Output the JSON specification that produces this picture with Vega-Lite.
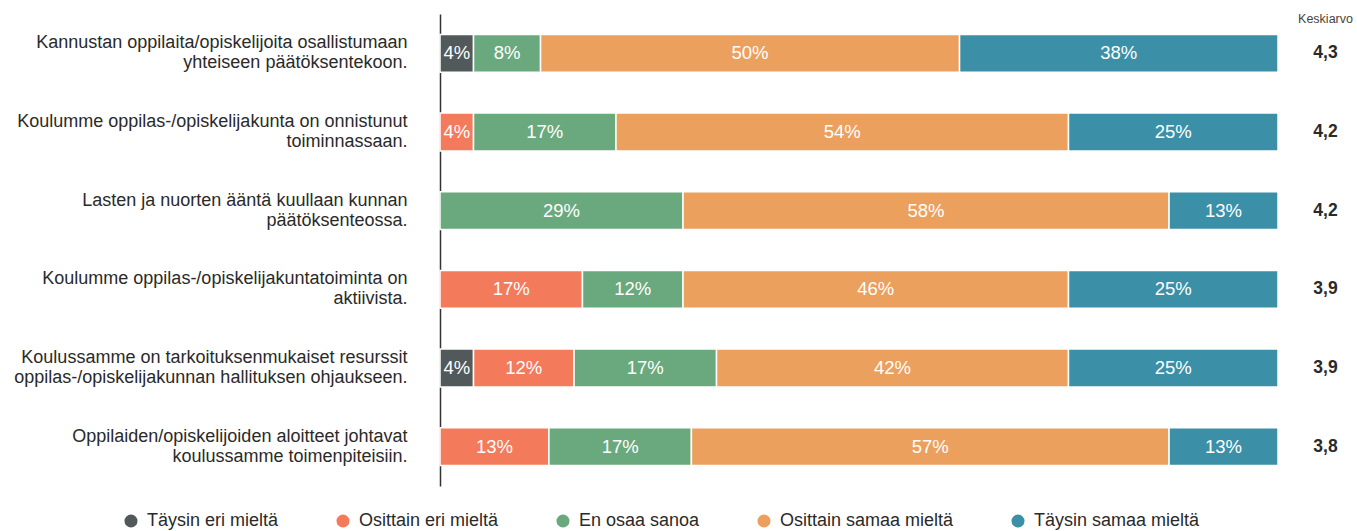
{
  "$schema": "https://vega.github.io/schema/vega-lite/v6.json",
  "width": 838,
  "height": 472,
  "padding": {"left": 5, "top": 12, "right": 5, "bottom": 5},
  "background": "white",
  "config": {"view": {"stroke": null}, "font": "Liberation Sans"},
  "data": {"values": [
    {"qn": 1, "question": "Kannustan oppilaita/opiskelijoita osallistumaan\nyhteiseen päätöksentekoon.", "mean": "4,3", "cat": "Täysin eri mieltä", "co": 1, "pct": 4},
    {"qn": 1, "question": "Kannustan oppilaita/opiskelijoita osallistumaan\nyhteiseen päätöksentekoon.", "mean": "4,3", "cat": "En osaa sanoa", "co": 3, "pct": 8},
    {"qn": 1, "question": "Kannustan oppilaita/opiskelijoita osallistumaan\nyhteiseen päätöksentekoon.", "mean": "4,3", "cat": "Osittain samaa mieltä", "co": 4, "pct": 50},
    {"qn": 1, "question": "Kannustan oppilaita/opiskelijoita osallistumaan\nyhteiseen päätöksentekoon.", "mean": "4,3", "cat": "Täysin samaa mieltä", "co": 5, "pct": 38},
    {"qn": 2, "question": "Koulumme oppilas-/opiskelijakunta on onnistunut\ntoiminnassaan.", "mean": "4,2", "cat": "Osittain eri mieltä", "co": 2, "pct": 4},
    {"qn": 2, "question": "Koulumme oppilas-/opiskelijakunta on onnistunut\ntoiminnassaan.", "mean": "4,2", "cat": "En osaa sanoa", "co": 3, "pct": 17},
    {"qn": 2, "question": "Koulumme oppilas-/opiskelijakunta on onnistunut\ntoiminnassaan.", "mean": "4,2", "cat": "Osittain samaa mieltä", "co": 4, "pct": 54},
    {"qn": 2, "question": "Koulumme oppilas-/opiskelijakunta on onnistunut\ntoiminnassaan.", "mean": "4,2", "cat": "Täysin samaa mieltä", "co": 5, "pct": 25},
    {"qn": 3, "question": "Lasten ja nuorten ääntä kuullaan kunnan\npäätöksenteossa.", "mean": "4,2", "cat": "En osaa sanoa", "co": 3, "pct": 29},
    {"qn": 3, "question": "Lasten ja nuorten ääntä kuullaan kunnan\npäätöksenteossa.", "mean": "4,2", "cat": "Osittain samaa mieltä", "co": 4, "pct": 58},
    {"qn": 3, "question": "Lasten ja nuorten ääntä kuullaan kunnan\npäätöksenteossa.", "mean": "4,2", "cat": "Täysin samaa mieltä", "co": 5, "pct": 13},
    {"qn": 4, "question": "Koulumme oppilas-/opiskelijakuntatoiminta on\naktiivista.", "mean": "3,9", "cat": "Osittain eri mieltä", "co": 2, "pct": 17},
    {"qn": 4, "question": "Koulumme oppilas-/opiskelijakuntatoiminta on\naktiivista.", "mean": "3,9", "cat": "En osaa sanoa", "co": 3, "pct": 12},
    {"qn": 4, "question": "Koulumme oppilas-/opiskelijakuntatoiminta on\naktiivista.", "mean": "3,9", "cat": "Osittain samaa mieltä", "co": 4, "pct": 46},
    {"qn": 4, "question": "Koulumme oppilas-/opiskelijakuntatoiminta on\naktiivista.", "mean": "3,9", "cat": "Täysin samaa mieltä", "co": 5, "pct": 25},
    {"qn": 5, "question": "Koulussamme on tarkoituksenmukaiset resurssit\noppilas-/opiskelijakunnan hallituksen ohjaukseen.", "mean": "3,9", "cat": "Täysin eri mieltä", "co": 1, "pct": 4},
    {"qn": 5, "question": "Koulussamme on tarkoituksenmukaiset resurssit\noppilas-/opiskelijakunnan hallituksen ohjaukseen.", "mean": "3,9", "cat": "Osittain eri mieltä", "co": 2, "pct": 12},
    {"qn": 5, "question": "Koulussamme on tarkoituksenmukaiset resurssit\noppilas-/opiskelijakunnan hallituksen ohjaukseen.", "mean": "3,9", "cat": "En osaa sanoa", "co": 3, "pct": 17},
    {"qn": 5, "question": "Koulussamme on tarkoituksenmukaiset resurssit\noppilas-/opiskelijakunnan hallituksen ohjaukseen.", "mean": "3,9", "cat": "Osittain samaa mieltä", "co": 4, "pct": 42},
    {"qn": 5, "question": "Koulussamme on tarkoituksenmukaiset resurssit\noppilas-/opiskelijakunnan hallituksen ohjaukseen.", "mean": "3,9", "cat": "Täysin samaa mieltä", "co": 5, "pct": 25},
    {"qn": 6, "question": "Oppilaiden/opiskelijoiden aloitteet johtavat\nkoulussamme toimenpiteisiin.", "mean": "3,8", "cat": "Osittain eri mieltä", "co": 2, "pct": 13},
    {"qn": 6, "question": "Oppilaiden/opiskelijoiden aloitteet johtavat\nkoulussamme toimenpiteisiin.", "mean": "3,8", "cat": "En osaa sanoa", "co": 3, "pct": 17},
    {"qn": 6, "question": "Oppilaiden/opiskelijoiden aloitteet johtavat\nkoulussamme toimenpiteisiin.", "mean": "3,8", "cat": "Osittain samaa mieltä", "co": 4, "pct": 57},
    {"qn": 6, "question": "Oppilaiden/opiskelijoiden aloitteet johtavat\nkoulussamme toimenpiteisiin.", "mean": "3,8", "cat": "Täysin samaa mieltä", "co": 5, "pct": 13}
  ]},
  "transform": [
    {"calculate": "datum.question + '#' + datum.mean", "as": "key"},
    {"calculate": "datum.pct + '%'", "as": "label"},
    {"stack": "pct", "groupby": ["key"], "sort": [{"field": "co", "order": "ascending"}], "as": ["x0", "x1"]},
    {"calculate": "(datum.x0 + datum.x1) / 2", "as": "xm"}
  ],
  "encoding": {
    "y": {
      "field": "key", "type": "nominal",
      "sort": {"field": "qn", "op": "min", "order": "ascending"},
      "scale": {"paddingInner": 0.52, "paddingOuter": 0.26}
    }
  },
  "layer": [
    {
      "mark": {"type": "bar", "stroke": "white", "strokeWidth": 1.5},
      "encoding": {
        "x": {"field": "x0", "type": "quantitative", "scale": {"domain": [0, 100], "nice": false}, "axis": null},
        "x2": {"field": "x1"},
        "y": {
          "field": "key", "type": "nominal",
          "sort": {"field": "qn", "op": "min", "order": "ascending"},
          "axis": {
            "orient": "left", "title": null, "ticks": false, "domain": true,
            "domainColor": "#333333", "domainWidth": 1.5,
            "labelExpr": "split(split(datum.value, '#')[0], '\\n')",
            "labelFontSize": 18, "labelColor": "#2a2a2a", "labelLineHeight": 20,
            "labelOffset": -10,
            "labelPadding": 33, "labelLimit": 500, "minExtent": 435, "maxExtent": 435
          }
        },
        "color": {
          "field": "cat", "type": "nominal",
          "scale": {
            "domain": ["Täysin eri mieltä", "Osittain eri mieltä", "En osaa sanoa", "Osittain samaa mieltä", "Täysin samaa mieltä"],
            "range": ["#52595a", "#f47a5c", "#6aa97d", "#eba05e", "#3b8fa7"]
          },
          "legend": {
            "title": null, "orient": "none", "direction": "horizontal",
            "legendX": -318, "legendY": 498,
            "symbolType": "circle", "symbolSize": 170, "symbolStrokeWidth": 0,
            "labelFontSize": 18, "labelColor": "#2a2a2a", "labelOffset": 7,
            "columnPadding": 55, "labelLimit": 300
          }
        }
      }
    },
    {
      "mark": {"type": "text", "fontSize": 18.5, "color": "white", "baseline": "middle", "align": "center"},
      "encoding": {
        "x": {"field": "xm", "type": "quantitative", "scale": {"domain": [0, 100], "nice": false}, "axis": null},
        "y": {
          "field": "key", "type": "nominal",
          "sort": {"field": "qn", "op": "min", "order": "ascending"},
          "axis": {
            "orient": "right", "ticks": false, "domain": false,
            "labelExpr": "split(datum.value, '#')[1]",
            "labelFontSize": 17.5, "labelFontWeight": "bold", "labelColor": "#2a2a2a",
            "labelAlign": "center", "labelPadding": 47,
            "title": "Keskiarvo", "titleAngle": 0, "titleFontSize": 12.5, "titleFontWeight": "normal",
            "titleColor": "#444444", "titleX": 47, "titleY": 4, "titleAlign": "center", "titleBaseline": "middle"
          }
        },
        "text": {"field": "label"}
      }
    }
  ],
  "resolve": {"axis": {"y": "independent"}}
}
